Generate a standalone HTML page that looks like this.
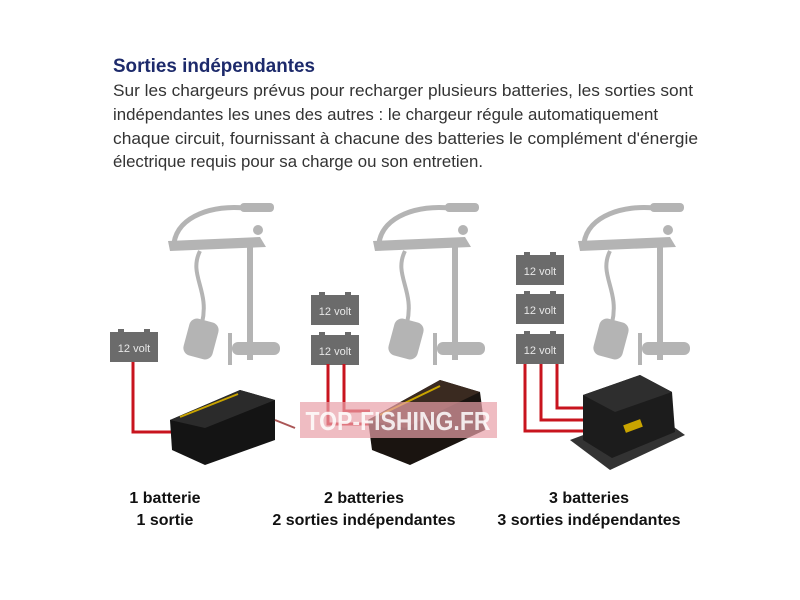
<!DOCTYPE html>
<html><head><meta charset="utf-8"><style>
html,body{margin:0;padding:0;background:#fff;width:800px;height:600px;overflow:hidden}
svg{display:block}
text{font-family:"Liberation Sans",sans-serif}
</style></head><body>
<svg width="800" height="600" viewBox="0 0 800 600" xmlns="http://www.w3.org/2000/svg">
<rect width="800" height="600" fill="#fff"/>
<text x="113" y="72" font-size="19" font-weight="bold" fill="#1d2a6b" textLength="202" lengthAdjust="spacingAndGlyphs">Sorties indépendantes</text>
<g font-size="17" fill="#333">
<text x="113" y="96" textLength="580" lengthAdjust="spacingAndGlyphs">Sur les chargeurs prévus pour recharger plusieurs batteries, les sorties sont</text>
<text x="113" y="120" textLength="545" lengthAdjust="spacingAndGlyphs">indépendantes les unes des autres : le chargeur régule automatiquement</text>
<text x="113" y="144" textLength="585" lengthAdjust="spacingAndGlyphs">chaque circuit, fournissant à chacune des batteries le complément d'énergie</text>
<text x="113" y="167" textLength="370" lengthAdjust="spacingAndGlyphs">électrique requis pour sa charge ou son entretien.</text>
</g>
<defs>
<g id="motor" fill="#b4b4b4" stroke="#b4b4b4">
<path d="M-76,38 C-72,10 -35,0 -6,3" fill="none" stroke-width="5"/>
<rect x="-10" y="-2" width="34" height="9" rx="4" stroke="none"/>
<path d="M-82,36 L10,32 L16,42 L-80,46 Z" stroke="none"/>
<circle cx="8" cy="25" r="5" stroke="none"/>
<rect x="-3" y="35" width="6" height="120" stroke="none"/>
<path d="M-50,46 C-62,70 -40,85 -48,118" fill="none" stroke-width="4"/>
<rect x="-64" y="115" width="30" height="38" rx="8" transform="rotate(15 -49 134)" stroke="none"/>
<rect x="-18" y="137" width="48" height="13" rx="6" stroke="none"/>
<rect x="-22" y="128" width="4" height="32" stroke="none"/>
</g>
<g id="bat">
<rect x="0" y="3" width="48" height="30" fill="#6b6b6b"/>
<rect x="8" y="0" width="6" height="4" fill="#6b6b6b"/>
<rect x="34" y="0" width="6" height="4" fill="#6b6b6b"/>
<text x="24" y="23" font-size="11" fill="#e8e8e8" text-anchor="middle">12 volt</text>
</g>
</defs>
<use href="#motor" x="250" y="205"/>
<use href="#motor" x="455" y="205"/>
<use href="#motor" x="660" y="205"/>
<!-- col1 -->
<use href="#bat" x="110" y="329"/>
<path d="M133,362 V432 H172" fill="none" stroke="#c8141e" stroke-width="3"/>
<g>
<path d="M170,420 L240,390 L275,400 L275,440 L205,465 L172,450 Z" fill="#141414"/>
<path d="M170,420 L240,390 L275,400 L205,428 Z" fill="#2b2b2b"/>
<path d="M180,417 L238,394" stroke="#c9a400" stroke-width="2"/>
<path d="M275,420 L295,428" stroke="#a55" stroke-width="2"/>
</g>
<!-- col2 -->
<use href="#bat" x="311" y="292"/>
<use href="#bat" x="311" y="332"/>
<path d="M328,364 V424 H370 M344,364 V411 H370" fill="none" stroke="#c8141e" stroke-width="3"/>
<g>
<path d="M368,420 L440,380 L480,392 L485,430 L410,465 L372,450 Z" fill="#1a1410"/>
<path d="M368,420 L440,380 L480,392 L405,428 Z" fill="#3a2a20"/>
<path d="M380,415 L440,386" stroke="#c9a400" stroke-width="2"/>
</g>
<!-- col3 -->
<use href="#bat" x="516" y="252"/>
<use href="#bat" x="516" y="291"/>
<use href="#bat" x="516" y="331"/>
<path d="M525,364 V431 H583 M541,364 V420 H583 M557,364 V408 H583" fill="none" stroke="#c8141e" stroke-width="3"/>
<g>
<path d="M570,440 L650,410 L685,435 L610,470 Z" fill="#333"/>
<path d="M583,395 L640,375 L672,392 L675,432 L612,458 L583,440 Z" fill="#1c1c1c"/>
<path d="M583,395 L640,375 L672,392 L615,412 Z" fill="#2e2e2e"/>
<rect x="624" y="422" width="18" height="8" fill="#c9a400" transform="rotate(-20 633 426)"/>
</g>
<!-- watermark -->
<rect x="300" y="402" width="197" height="36" fill="#e8a0a8" opacity="0.7"/>
<text x="398" y="430" font-size="26" font-weight="bold" fill="#fff" text-anchor="middle" opacity="0.85" textLength="185" lengthAdjust="spacingAndGlyphs">TOP-FISHING.FR</text>
<g font-size="16" font-weight="bold" fill="#111" text-anchor="middle">
<text x="165" y="503">1 batterie</text>
<text x="165" y="525">1 sortie</text>
<text x="364" y="503">2 batteries</text>
<text x="364" y="525">2 sorties indépendantes</text>
<text x="589" y="503">3 batteries</text>
<text x="589" y="525">3 sorties indépendantes</text>
</g>
</svg>
</body></html>
